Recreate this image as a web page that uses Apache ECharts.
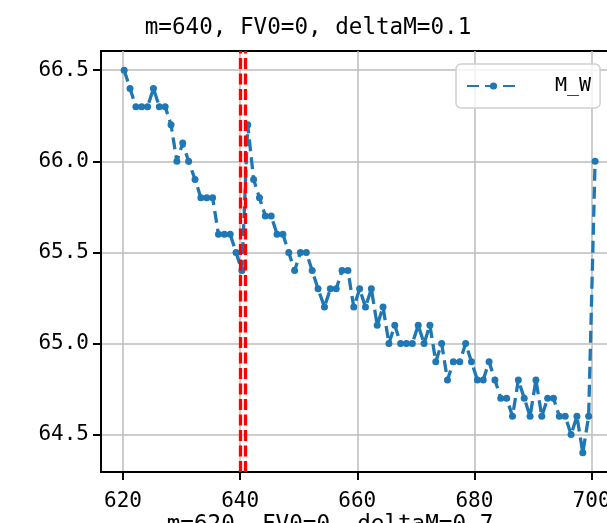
<!DOCTYPE html>
<html>
<head>
<meta charset="utf-8">
<script src="https://cdn.jsdelivr.net/npm/echarts@6/dist/echarts.min.js"></script>
<style>html,body{margin:0;padding:0;background:#fff}#c{width:607px;height:523px}</style>
</head>
<body>
<div id="c"></div>
<script>
const titleText = 'm=640, FV0=0, deltaM=0.1';
const nextTitleText = 'm=620, FV0=0, deltaM=0.7';
const seriesName = 'M_W';
const xValues = [
  620.2, 621.2, 622.2, 623.2, 624.2, 625.2, 626.2, 627.2, 628.2, 629.2,
  630.2, 631.2, 632.3, 633.3, 634.3, 635.3, 636.3, 637.3, 638.3, 639.3,
  640.3, 641.3, 642.3, 643.3, 644.3, 645.3, 646.3, 647.3, 648.3, 649.3,
  650.3, 651.3, 652.3, 653.3, 654.4, 655.4, 656.4, 657.4, 658.4, 659.4,
  660.4, 661.4, 662.4, 663.4, 664.4, 665.4, 666.4, 667.4, 668.4, 669.4,
  670.4, 671.4, 672.4, 673.4, 674.4, 675.4, 676.4, 677.5, 678.5, 679.5,
  680.5, 681.5, 682.5, 683.5, 684.5, 685.5, 686.5, 687.5, 688.5, 689.5,
  690.5, 691.5, 692.5, 693.5, 694.5, 695.5, 696.5, 697.5, 698.5, 699.5,
  700.6
];
const mwValues = [
  66.5, 66.4, 66.3, 66.3, 66.3, 66.4, 66.3, 66.3, 66.2, 66.0,
  66.1, 66.0, 65.9, 65.8, 65.8, 65.8, 65.6, 65.6, 65.6, 65.5,
  65.4, 66.2, 65.9, 65.8, 65.7, 65.7, 65.6, 65.6, 65.5, 65.4,
  65.5, 65.5, 65.4, 65.3, 65.2, 65.3, 65.3, 65.4, 65.4, 65.2,
  65.3, 65.2, 65.3, 65.1, 65.2, 65.0, 65.1, 65.0, 65.0, 65.0,
  65.1, 65.0, 65.1, 64.9, 65.0, 64.8, 64.9, 64.9, 65.0, 64.9,
  64.8, 64.8, 64.9, 64.8, 64.7, 64.7, 64.6, 64.8, 64.7, 64.6,
  64.8, 64.6, 64.7, 64.7, 64.6, 64.6, 64.5, 64.6, 64.4, 64.6,
  66.0
];
const vLines = [640, 640.9];
const xTicks = [620, 640, 660, 680, 700];
const yTicks = [64.5, 65.0, 65.5, 66.0, 66.5];

const FONT = 'DejaVu Sans Mono';
const chart = echarts.init(document.getElementById('c'), null, {renderer: 'canvas'});
const data = xValues.map((x, i) => [x, mwValues[i]]);

chart.setOption({
  animation: false,
  backgroundColor: '#ffffff',
  textStyle: {fontFamily: FONT},
  grid: {
    left: 101, top: 51, width: 514, height: 421,
    containLabel: false, outerBoundsMode: 'none',
    show: true, borderColor: '#000', borderWidth: 2, backgroundColor: 'transparent'
  },
  graphic: [
    {type: 'text', x: 308, y: 28, style: {text: titleText, align: 'center', verticalAlign: 'middle', font: '22.6px "DejaVu Sans Mono"', fill: '#000'}},
    {type: 'text', x: 330, y: 525, style: {text: nextTitleText, align: 'center', verticalAlign: 'middle', font: '22.6px "DejaVu Sans Mono"', fill: '#000'}}
  ],
  legend: {
    left: 456, top: 64, padding: [12, 9, 12, 10],
    backgroundColor: 'rgba(255,255,255,0.8)',
    borderColor: '#d0d0d0', borderWidth: 1.5, borderRadius: 5,
    itemWidth: 53, itemHeight: 9,
    textStyle: {fontFamily: FONT, fontSize: 20, color: '#000', padding: [0, 0, 0, 30]},
    data: [{name: seriesName}]
  },
  xAxis: {
    type: 'value', min: 616.245, max: 704,
    axisLine: {show: true, onZero: false, lineStyle: {color: '#000', width: 2}},
    axisTick: {show: true, length: 8, lineStyle: {color: '#000', width: 2}, customValues: xTicks},
    axisLabel: {fontFamily: FONT, fontSize: 21, color: '#000', margin: 19, customValues: xTicks, formatter: v => String(Math.round(v))},
    splitLine: {show: true, lineStyle: {color: '#bdbdbd', width: 1.5}}
  },
  yAxis: {
    type: 'value', min: 64.2947, max: 66.6053,
    axisLine: {show: true, onZero: false, lineStyle: {color: '#000', width: 2}},
    axisTick: {show: true, length: 8, lineStyle: {color: '#000', width: 2}, customValues: yTicks},
    axisLabel: {fontFamily: FONT, fontSize: 21, color: '#000', margin: 12, customValues: yTicks, formatter: v => v.toFixed(1)},
    splitLine: {show: true, lineStyle: {color: '#bdbdbd', width: 1.5}}
  },
  series: [{
    name: seriesName,
    type: 'line',
    data: data,
    symbol: 'circle', symbolSize: 7,
    showSymbol: true,
    color: '#1f77b4',
    itemStyle: {color: '#1f77b4'},
    lineStyle: {color: '#1f77b4', width: 3.3, type: [12, 6]},
    markLine: {
      silent: true, symbol: ['none', 'none'], label: {show: false},
      lineStyle: {color: '#ff0000', width: 3.3, type: [11, 4.5]},
      data: vLines.map(v => ({xAxis: v}))
    },
    z: 3
  }]
});
</script>
</body>
</html>
